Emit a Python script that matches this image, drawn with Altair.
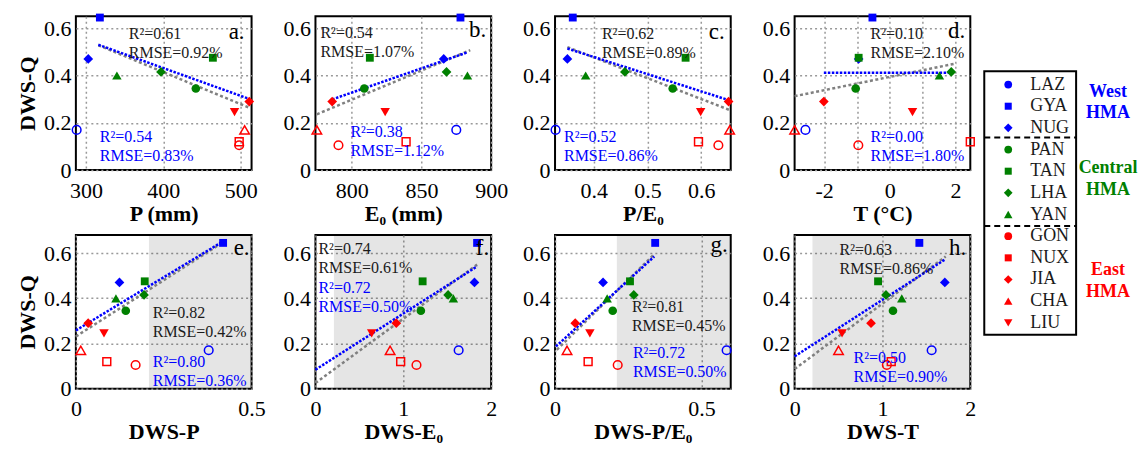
import altair as alt
import pandas as pd

# ---------------- data ----------------
stations = ["LAZ", "GYA", "NUG", "PAN", "TAN", "LHA", "YAN", "GON", "NUX", "JIA", "CHA", "LIU"]
regions = ["West"] * 3 + ["Central"] * 4 + ["East"] * 5
shapes = ["circle", "square", "diamond", "circle", "square", "diamond", "triangle-up",
          "circle", "square", "diamond", "triangle-up", "triangle-down"]
hollow = [True, False, False, False, False, False, False, True, True, False, True, False]

dws_q = [0.17, 0.645, 0.47, 0.345, 0.475, 0.415, 0.40, 0.105, 0.12, 0.29, 0.17, 0.245]

p_mm = [288, 318, 303, 442, 464, 397, 340, 498, 498, 511, 505, 492]
e0_mm = [875, 878, 866, 809, 813, 868, 883, 790.5, 839, 786, 775, 824]
p_e0 = [0.329, 0.361, 0.351, 0.547, 0.571, 0.458, 0.385, 0.632, 0.595, 0.651, 0.653, 0.599]
t_c = [-2.57, -0.53, -0.95, -1.04, -0.95, 1.87, 1.51, -0.96, 2.45, -2.01, -2.9, 0.69]
dws_p = [0.378, 0.419, 0.124, 0.142, 0.196, 0.194, 0.114, 0.170, 0.088, 0.035, 0.014, 0.080]
dws_e0 = [1.63, 1.84, 1.81, 1.20, 1.22, 1.51, 1.57, 1.15, 0.97, 0.92, 0.85, 0.64]
dws_pe0 = [0.586, 0.342, 0.164, 0.197, 0.256, 0.269, 0.178, 0.214, 0.113, 0.069, 0.041, 0.119]
dws_t = [1.56, 1.42, 1.71, 1.12, 0.95, 1.04, 1.22, 1.05, 1.10, 0.87, 0.50, 0.54]

# fit lines (all stations: gray; filled stations: blue), endpoints
gray_x = [[316, 511], [775, 885], [0.351, 0.653], [-2.9, 2.02],
          [0, 0.433], [0, 1.84], [0.006, 0.335], [0, 1.72]]
gray_y = [[0.528, 0.264], [0.236, 0.507], [0.52, 0.254], [0.3125, 0.451],
          [0.231, 0.662], [0.025, 0.549], [0.172, 0.59], [0.087, 0.585]]
blue_x = [[316, 511], [786, 882.6], [0.351, 0.651], [-2.01, 1.87],
          [0, 0.419], [0, 1.84], [0.003, 0.339], [0, 1.71]]
blue_y = [[0.53, 0.301], [0.299, 0.497], [0.514, 0.296], [0.412, 0.412],
          [0.258, 0.652], [0.084, 0.541], [0.187, 0.585], [0.143, 0.571]]

stats_all = [["R²=0.61", "RMSE=0.92%"], ["R²=0.54", "RMSE=1.07%"], ["R²=0.62", "RMSE=0.89%"],
             ["R²=0.10", "RMSE=2.10%"], ["R²=0.82", "RMSE=0.42%"], ["R²=0.74", "RMSE=0.61%"],
             ["R²=0.81", "RMSE=0.45%"], ["R²=0.63", "RMSE=0.86%"]]
stats_blue = [["R²=0.54", "RMSE=0.83%"], ["R²=0.38", "RMSE=1.12%"], ["R²=0.52", "RMSE=0.86%"],
              ["R²=0.00", "RMSE=1.80%"], ["R²=0.80", "RMSE=0.36%"], ["R²=0.72", "RMSE=0.50%"],
              ["R²=0.72", "RMSE=0.50%"], ["R²=0.50", "RMSE=0.90%"]]
letters = ["a.", "b.", "c.", "d.", "e.", "f.", "g.", "h."]
x_titles = ["P (mm)", "E₀ (mm)", "P/E₀", "T (°C)", "DWS-P", "DWS-E₀", "DWS-P/E₀", "DWS-T"]
x_ticks = [[300, 400, 500], [800, 850, 900], [0.4, 0.5, 0.6], [-2, -1, 0, 1, 2],
           [0, 0.5], [0, 1, 2], [0, 0.5], [0, 1, 2]]
y_ticks = [0, 0.2, 0.4, 0.6]
shade_start = [None, None, None, None, 0.208, 0.21, 0.211, 0.203]

# ---------------- layout / style ----------------
FONT = "'Liberation Serif', 'Times New Roman', Times, serif"
W, H = 176, 154
x_domains = [[287, 514], [774, 900], [0.328, 0.655], [-2.9, 2.45],
             [0, 0.5], [0, 2], [0, 0.6], [0, 2]]
y_domains = [[0, 0.65]] * 4 + [[0, 0.68]] * 4
ann_black = [(53, 23), (5, 22), (47, 23), (76, 23), (77, 83), (3, 19), (77, 77), (45, 20)]
ann_blue = [(24, 126), (35, 121), (9, 126), (76, 126), (77, 132), (3, 58), (78, 123), (59, 128)]
letter_pos = [(169, 23), (171, 21), (170, 23), (171, 22), (174, 20), (174, 20), (173, 17), (172, 20)]
LINE_GAP = 19

region_colors = {"West": "#0000ff", "Central": "#008000", "East": "#ff0000"}
shape_size = {"circle": 75, "square": 62, "diamond": 95, "triangle-up": 90, "triangle-down": 90}
colors = [region_colors[r] for r in regions]
sizes = [shape_size[s] for s in shapes]

one = pd.DataFrame({"d": [0]})


def text_layer(s, x, y, color, size=16, align="left", weight="normal", baseline="alphabetic"):
    return alt.Chart(one).mark_text(
        font=FONT, fontSize=size, color=color, align=align, baseline=baseline, fontWeight=weight
    ).encode(x=alt.value(x), y=alt.value(y), text=alt.value(s))


def panel(i, xvals):
    df = pd.DataFrame({"station": stations, "x": xvals, "y": dws_q, "shape": shapes,
                       "color": colors, "size": sizes, "hollow": hollow})
    if i == 3:
        lab = "datum.value % 2 == 0 ? '' + datum.value : ''"
    else:
        lab = "'' + datum.value"
    xenc = alt.X("x:Q", scale=alt.Scale(domain=x_domains[i], nice=False, zero=False),
                 axis=alt.Axis(values=x_ticks[i], title=x_titles[i], labelExpr=lab))
    yenc = alt.Y("y:Q", scale=alt.Scale(domain=y_domains[i], nice=False, zero=False),
                 axis=alt.Axis(values=y_ticks, labelExpr="'' + datum.value",
                               title="DWS-Q" if i in (0, 4) else None))

    layers = []
    if shade_start[i] is not None:
        sdf = pd.DataFrame({"x": [shade_start[i]], "x2": [x_domains[i][1]]})
        layers.append(alt.Chart(sdf).mark_rect(color="black", opacity=0.1).encode(
            x=xenc, x2="x2:Q", y=alt.value(0), y2=alt.value(H)))

    gdf = pd.DataFrame({"x": gray_x[i], "y": gray_y[i]})
    bdf = pd.DataFrame({"x": blue_x[i], "y": blue_y[i]})
    layers.append(alt.Chart(gdf).mark_line(color="#808080", strokeWidth=2.5, strokeDash=[3, 2.5])
                  .encode(x=xenc, y=yenc))
    layers.append(alt.Chart(bdf).mark_line(color="#0000ff", strokeWidth=2.5, strokeDash=[2.5, 1.5])
                  .encode(x=xenc, y=yenc))

    filled_df = df[~df["hollow"]]
    open_df = df[df["hollow"]]
    layers.append(alt.Chart(filled_df).mark_point(filled=True, opacity=1).encode(
        x=xenc, y=yenc,
        shape=alt.Shape("shape:N", scale=None),
        color=alt.Color("color:N", scale=None),
        size=alt.Size("size:Q", scale=None)))
    layers.append(alt.Chart(open_df).mark_point(filled=False, opacity=1, strokeWidth=1.5).encode(
        x=xenc, y=yenc,
        shape=alt.Shape("shape:N", scale=None),
        color=alt.Color("color:N", scale=None),
        size=alt.Size("size:Q", scale=None)))

    bx, by = ann_black[i]
    for k, s in enumerate(stats_all[i]):
        layers.append(text_layer(s, bx, by + k * LINE_GAP, "#1a1a1a"))
    ux, uy = ann_blue[i]
    for k, s in enumerate(stats_blue[i]):
        layers.append(text_layer(s, ux, uy + k * LINE_GAP, "#0000ff"))
    lx, ly = letter_pos[i]
    layers.append(text_layer(letters[i], lx, ly, "black", size=23, align="right"))

    return alt.layer(*layers).properties(width=W, height=H)


xs = [p_mm, e0_mm, p_e0, t_c, dws_p, dws_e0, dws_pe0, dws_t]
panels = [panel(i, xs[i]) for i in range(8)]

# ---------------- legend (5th column of the top row) ----------------
LW, LH = 105, H
OFF = -50  # legend box sits left of its grid cell
BOXW = 92
row_y = [68.3 + 21.7 * k for k in range(len(stations))]
ldf = pd.DataFrame({"station": stations, "ly": row_y, "shape": shapes, "color": colors,
                    "size": [s * 0.8 for s in sizes]})
box = alt.Chart(one).mark_rect(fill="white", stroke="black", strokeWidth=2).encode(
    x=alt.value(OFF), x2=alt.value(OFF + BOXW), y=alt.value(55), y2=alt.value(319))
seps = [alt.Chart(one).mark_rule(color="black", strokeWidth=2, strokeDash=[6, 4]).encode(
    x=alt.value(OFF), x2=alt.value(OFF + BOXW), y=alt.value(yy)) for yy in (121.3, 210)]
lmarks = alt.Chart(ldf).mark_point(filled=True, opacity=1).encode(
    x=alt.value(OFF + 24), y=alt.Y("ly:Q", scale=None, axis=None),
    shape=alt.Shape("shape:N", scale=None),
    color=alt.Color("color:N", scale=None),
    size=alt.Size("size:Q", scale=None))
ltext = alt.Chart(ldf).mark_text(font=FONT, fontSize=18, align="left", baseline="middle",
                                 color="#1a1a1a").encode(
    x=alt.value(OFF + 46), y=alt.Y("ly:Q", scale=None, axis=None), text="station:N")
region_labels = []
for name, (y1, y2) in zip(["West", "Central", "East"], [(76, 97), (152, 174), (254, 276)]):
    for yy, s in zip((y1, y2), [name, "HMA"]):
        region_labels.append(text_layer(s, OFF + 124, yy, region_colors[name], size=18,
                                        align="center", weight="bold", baseline="middle"))
legend = alt.layer(box, *seps, lmarks, ltext, *region_labels).properties(
    width=LW, height=LH, view=alt.ViewBackground(stroke="transparent"))

cells = panels[:4] + [legend] + panels[4:]
chart = alt.concat(*cells, columns=5, spacing=alt.RowColnumber(row=65, column=64),
                   bounds="flush").properties(
    padding={"left": 7, "top": 4, "right": 0, "bottom": 0}
).configure(font=FONT).configure_view(stroke="black", strokeWidth=2).configure_axis(
    labelFont=FONT, labelFontSize=22, labelColor="black",
    titleFont=FONT, titleFontSize=22, titleFontWeight="bold", titleColor="black",
    grid=True, gridDash=[2, 3], gridColor="#999999", gridWidth=1.5,
    domain=False, ticks=False, labelFlush=False, labelOverlap=False
).configure_axisX(labelPadding=10, titlePadding=2).configure_axisY(labelPadding=5, titlePadding=4)

chart.save("out.html", embed_options={"renderer": "svg", "actions": False})
